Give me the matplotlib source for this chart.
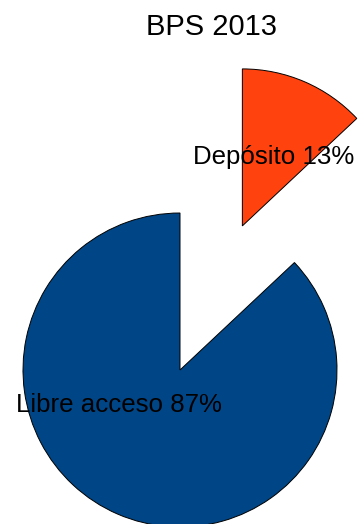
import matplotlib
matplotlib.use("Agg")
import matplotlib.pyplot as plt

plt.rcParams['font.family'] = ['Liberation Sans', 'DejaVu Sans']

title = "BPS 2013"
categories = ["Depósito", "Libre acceso"]
values = [13, 87]
colors = ["#FF420E", "#004586"]

# pixel geometry of the reference: pie centre and radius
W, H = 360, 524
cx, cy, r = 180.0, 370.0, 157.0

fig = plt.figure(figsize=(W / 100, H / 100), dpi=100)
ax = fig.add_axes([0, 0, 1, 1])

wedges, _ = ax.pie(values, colors=colors, startangle=90, counterclock=False,
                   explode=[1.0, 0.0], radius=1.0, center=(0, 0),
                   wedgeprops=dict(edgecolor="black", linewidth=0.7),
                   frame=True)
ax.set_xlim(-cx / r, (W - cx) / r)
ax.set_ylim(-(H - cy) / r, cy / r)
ax.set_aspect("auto")
ax.axis("off")

# label spots (in pie radius units)
label_pos = [(0.594, 1.312), (-0.389, -0.266)]
for name, v, (lx, ly) in zip(categories, values, label_pos):
    ax.text(lx, ly, f"{name} {v}%", ha="center", va="baseline",
            fontsize=18.6, color="black")

fig.text(212 / W, 1 - 35 / H, title, ha="center", va="baseline", fontsize=21)

fig.savefig("out.png", dpi=100)
